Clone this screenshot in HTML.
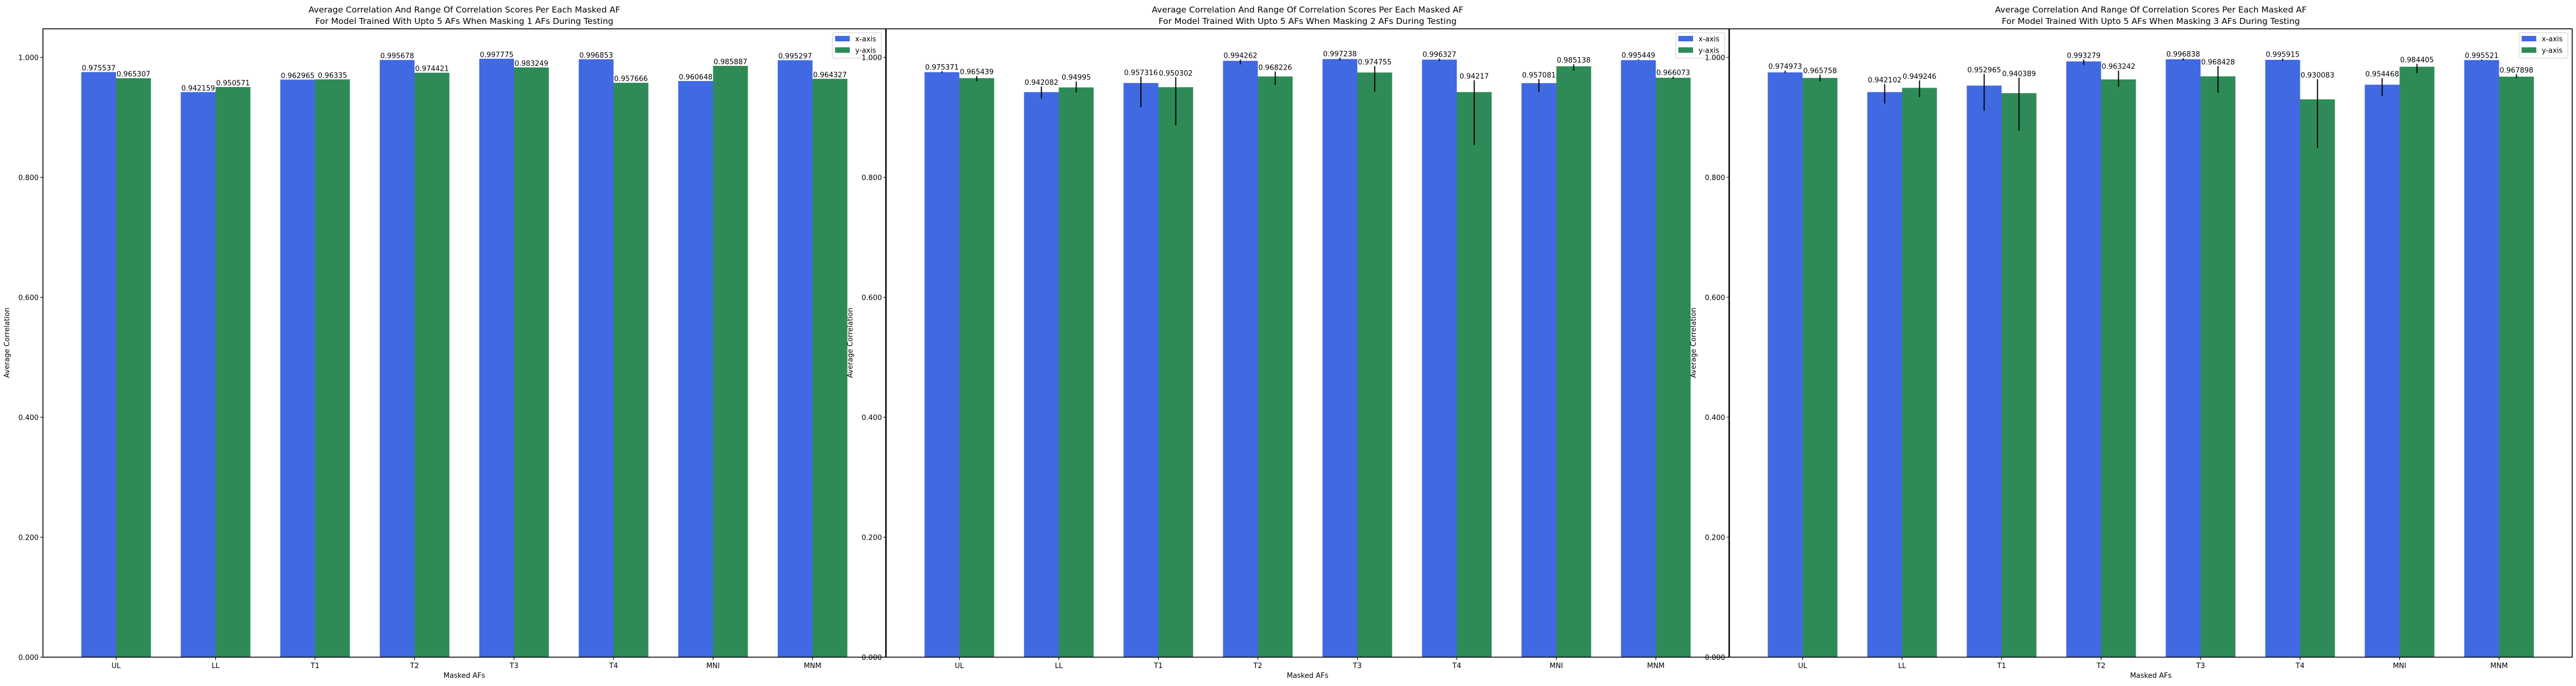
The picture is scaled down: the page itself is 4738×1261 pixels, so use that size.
<!DOCTYPE html>
<html><head><meta charset="utf-8">
<style>
html,body{margin:0;padding:0;background:#fff;}
svg{display:block;font-family:"DejaVu Sans","Liberation Sans",sans-serif;}
</style></head>
<body>
<svg id="chart" width="4738" height="1261" xmlns="http://www.w3.org/2000/svg"></svg>
<script>
const categories = ["UL","LL","T1","T2","T3","T4","MNI","MNM"];
const titles = [
  ["Average Correlation And Range Of Correlation Scores Per Each Masked AF","For Model Trained With Upto 5 AFs When Masking 1 AFs During Testing"],
  ["Average Correlation And Range Of Correlation Scores Per Each Masked AF","For Model Trained With Upto 5 AFs When Masking 2 AFs During Testing"],
  ["Average Correlation And Range Of Correlation Scores Per Each Masked AF","For Model Trained With Upto 5 AFs When Masking 3 AFs During Testing"]
];
const yTicks = [0,0.2,0.4,0.6,0.8,1.0];
const yTickLabels = ["0.000","0.200","0.400","0.600","0.800","1.000"];
// panel 1
const p1X = [0.975537,0.942159,0.962965,0.995678,0.997775,0.996853,0.960648,0.995297];
const p1Y = [0.965307,0.950571,0.96335,0.974421,0.983249,0.957666,0.985887,0.964327];
const p1XLabels = ["0.975537","0.942159","0.962965","0.995678","0.997775","0.996853","0.960648","0.995297"];
const p1YLabels = ["0.965307","0.950571","0.96335","0.974421","0.983249","0.957666","0.985887","0.964327"];
// panel 2
const p2X = [0.975371,0.942082,0.957316,0.994262,0.997238,0.996327,0.957081,0.995449];
const p2Y = [0.965439,0.94995,0.950302,0.968226,0.974755,0.94217,0.985138,0.966073];
const p2XLabels = ["0.975371","0.942082","0.957316","0.994262","0.997238","0.996327","0.957081","0.995449"];
const p2YLabels = ["0.965439","0.94995","0.950302","0.968226","0.974755","0.94217","0.985138","0.966073"];
const p2XMin = [0.9737,0.9315,0.9168,0.9885,0.9950,0.9940,0.9420,0.9948];
const p2XMax = [0.9770,0.9516,0.9680,0.9964,0.9993,0.9980,0.9637,0.9966];
const p2YMin = [0.9600,0.9413,0.8870,0.9540,0.9428,0.8540,0.9780,0.9646];
const p2YMax = [0.9690,0.9600,0.9670,0.9764,0.9855,0.9619,0.9885,0.9680];
// panel 3
const p3X = [0.974973,0.942102,0.952965,0.993279,0.996838,0.995915,0.954468,0.995521];
const p3Y = [0.965758,0.949246,0.940389,0.963242,0.968428,0.930083,0.984405,0.967898];
const p3XLabels = ["0.974973","0.942102","0.952965","0.993279","0.996838","0.995915","0.954468","0.995521"];
const p3YLabels = ["0.965758","0.949246","0.940389","0.963242","0.968428","0.930083","0.984405","0.967898"];
const p3XMin = [0.9738,0.9230,0.9110,0.9873,0.9950,0.9940,0.9356,0.9945];
const p3XMax = [0.9780,0.9555,0.9722,0.9964,0.9985,0.9980,0.9655,0.9965];
const p3YMin = [0.9600,0.9338,0.8780,0.9510,0.9410,0.8490,0.9737,0.9655];
const p3YMax = [0.9710,0.9616,0.9661,0.9780,0.9855,0.9637,0.9891,0.9719];

const NS="http://www.w3.org/2000/svg";
const svg=document.getElementById('chart');
function mk(tag,attrs,parent){const e=document.createElementNS(NS,tag);for(const k in attrs)e.setAttribute(k,attrs[k]);(parent||svg).appendChild(e);return e;}
function txt(s,attrs,parent){const e=mk('text',attrs,parent);e.textContent=s;return e;}

const panels=[
 {left:79,x:p1X,y:p1Y,xl:p1XLabels,yl:p1YLabels,err:null},
 {left:1630,x:p2X,y:p2Y,xl:p2XLabels,yl:p2YLabels,err:[p2XMin,p2XMax,p2YMin,p2YMax]},
 {left:3181,x:p3X,y:p3Y,xl:p3XLabels,yl:p3YLabels,err:[p3XMin,p3XMax,p3YMin,p3YMax]}
];
const W=1550, TOP=53, BOT=1208;
const yScale=v=>BOT-(BOT-TOP)*v/1.0476;
const bw=0.35;

panels.forEach((p,pi)=>{
  const g=mk('g',{});
  
  
  const xScale=u=>p.left+(u+0.735)*W/8.47;
  // bars
  const series=[[p.x,'#4169e1',-bw/2,'x'],[p.y,'#2e8b57',bw/2,'y']];
  series.forEach(([vals,col,off,nm],si)=>{
    vals.forEach((v,i)=>{
      const x0=xScale(i+off-bw/2), x1=xScale(i+off+bw/2);
      const r=mk('rect',{x:x0,y:yScale(v),width:x1-x0,height:BOT-yScale(v),fill:col},g);
      
      
      let topV=v;
      if(p.err){
        const lo=p.err[si*2][i], hi=p.err[si*2+1][i];
        const cx=xScale(i+off);
        const l=mk('line',{x1:cx,x2:cx,y1:yScale(lo),y2:yScale(hi),stroke:'#000','stroke-width':2},g);
        
        
        topV=Math.max(v,hi);
      }
      const t=txt((si==0?p.xl:p.yl)[i],{x:xScale(i+off),y:yScale(topV)-3,'font-size':13,'text-anchor':'middle',fill:'#000'},g);
      
      
    });
  });
  // axes frame
  const fr=mk('rect',{x:p.left,y:TOP,width:W,height:BOT-TOP,fill:'none',stroke:'#000','stroke-width':1.6},g);
  
  
  // y ticks
  yTicks.forEach((v,i)=>{
    mk('line',{x1:p.left-5,x2:p.left,y1:yScale(v),y2:yScale(v),stroke:'#000','stroke-width':1.2},g);
    const t=txt(yTickLabels[i],{x:p.left-8,y:yScale(v)+5,'font-size':13,'text-anchor':'end'},g);
    
    
  });
  // x ticks
  categories.forEach((c,i)=>{
    mk('line',{x1:xScale(i),x2:xScale(i),y1:BOT,y2:BOT+5,stroke:'#000','stroke-width':1.2},g);
    const t=txt(c,{x:xScale(i),y:1228,'font-size':13,'text-anchor':'middle'},g);
    
    
  });
  const xl=txt('Masked AFs',{x:p.left+W/2,y:1246,'font-size':13,'text-anchor':'middle'},g);
  
  
  const yl=txt('Average Correlation',{x:0,y:0,'font-size':13,'text-anchor':'middle',transform:'translate('+(p.left-62)+',630) rotate(-90)'},g);
  
  
  const t1=txt(titles[pi][0],{x:p.left+W/2,y:23,'font-size':15.5,'text-anchor':'middle'},g);
  
  
  const t2=txt(titles[pi][1],{x:p.left+W/2,y:44,'font-size':15.5,'text-anchor':'middle'},g);
  
  
  // legend
  const lx=p.left+W-98, ly=60;
  const lg=mk('g',{},g);
  
  
  mk('rect',{x:lx,y:ly,width:90,height:47,rx:3,fill:'#fff','fill-opacity':0.8,stroke:'#ccc','stroke-width':1},lg);
  const e1=mk('rect',{x:lx+5,y:ly+6,width:27,height:10,fill:'#4169e1'},lg);
  
  
  const e2=mk('rect',{x:lx+5,y:ly+27,width:27,height:10,fill:'#2e8b57'},lg);
  
  
  const l1=txt('x-axis',{x:lx+42,y:ly+16,'font-size':13},lg);
  
  
  const l2=txt('y-axis',{x:lx+42,y:ly+37,'font-size':13},lg);
  
  
});
</script>
</body></html>
